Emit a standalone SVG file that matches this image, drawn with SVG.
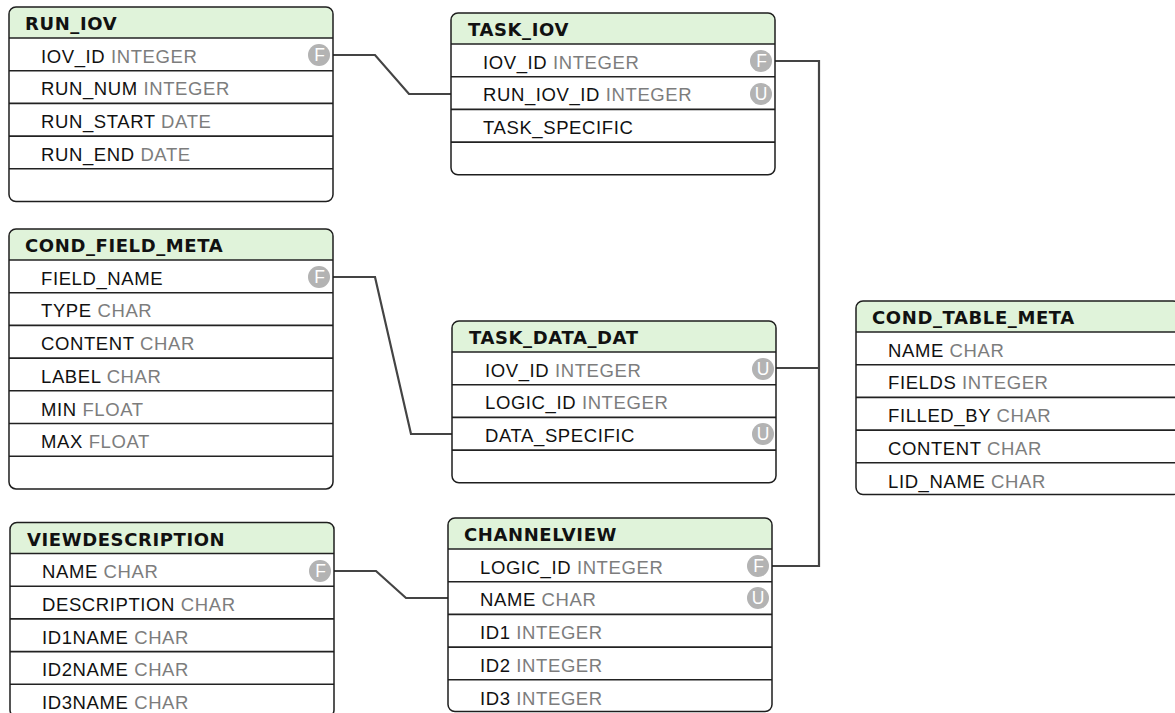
<svg xmlns="http://www.w3.org/2000/svg" width="1175" height="713" viewBox="0 0 1175 713">
  <style>
    .box { fill: #ffffff; stroke: none; }
    .frame { fill: none; stroke: #1e1e1e; stroke-width: 1.5; }
    .head { fill: #e0f3da; }
    .sep { stroke: #222222; stroke-width: 1.6; }
    .title { font-family: "DejaVu Sans", "Liberation Sans", sans-serif; font-weight: bold; font-size: 18px; fill: #111111; letter-spacing: 0.6px; }
    .row { font-family: "Liberation Sans", Arial, sans-serif; font-size: 18.5px; fill: #111111; letter-spacing: 0.6px; }
    .type { fill: #7d7d7d; }
    .key { fill: #b3b3b3; }
    .keyl { font-family: "Liberation Sans", Arial, sans-serif; font-size: 17.5px; fill: #ffffff; text-anchor: middle; }
    .link { fill: none; stroke: #444444; stroke-width: 2.2; stroke-linejoin: miter; }
  </style>

  <!-- connectors -->
  <g id="connectors">
    <path class="link" d="M333,55 H375 L409,94 H451"/>
    <path class="link" d="M333,277 H375 L411,434 H452"/>
    <path class="link" d="M334,571 H376 L406,598 H448"/>
    <path class="link" d="M775,61 H819 V566 H772"/>
    <path class="link" d="M776,368 H819"/>
  </g>

  <!-- RUN_IOV -->
  <g id="run_iov">
    <rect class="box" x="9" y="7" width="324" height="194.5" rx="7"/>
    <path class="head" d="M9,38 V14 Q9,7 16,7 H326 Q333,7 333,14 V38 Z"/>
    <line class="sep" x1="9" y1="38" x2="333" y2="38"/>
    <line class="sep" x1="9" y1="70.7" x2="333" y2="70.7"/>
    <line class="sep" x1="9" y1="103.4" x2="333" y2="103.4"/>
    <line class="sep" x1="9" y1="136.1" x2="333" y2="136.1"/>
    <line class="sep" x1="9" y1="168.8" x2="333" y2="168.8"/>
    <rect class="frame" x="9" y="7" width="324" height="194.5" rx="7"/>
    <text class="title" x="25" y="30">RUN_IOV</text>
    <text class="row" x="41" y="62.7">IOV_ID <tspan class="type">INTEGER</tspan></text>
    <text class="row" x="41" y="95.4">RUN_NUM <tspan class="type">INTEGER</tspan></text>
    <text class="row" x="41" y="128.1">RUN_START <tspan class="type">DATE</tspan></text>
    <text class="row" x="41" y="160.8">RUN_END <tspan class="type">DATE</tspan></text>
    <circle class="key" cx="319" cy="55" r="11"/>
    <text class="keyl" x="319.5" y="61.2">F</text>
  </g>

  <!-- TASK_IOV -->
  <g id="task_iov">
    <rect class="box" x="451" y="13" width="324" height="161.8" rx="7"/>
    <path class="head" d="M451,44 V20 Q451,13 458,13 H768 Q775,13 775,20 V44 Z"/>
    <line class="sep" x1="451" y1="44" x2="775" y2="44"/>
    <line class="sep" x1="451" y1="76.7" x2="775" y2="76.7"/>
    <line class="sep" x1="451" y1="109.4" x2="775" y2="109.4"/>
    <line class="sep" x1="451" y1="142.1" x2="775" y2="142.1"/>
    <rect class="frame" x="451" y="13" width="324" height="161.8" rx="7"/>
    <text class="title" x="468" y="36">TASK_IOV</text>
    <text class="row" x="483" y="68.7">IOV_ID <tspan class="type">INTEGER</tspan></text>
    <text class="row" x="483" y="101.4">RUN_IOV_ID <tspan class="type">INTEGER</tspan></text>
    <text class="row" x="483" y="134.1">TASK_SPECIFIC</text>
    <circle class="key" cx="761" cy="61" r="11"/>
    <text class="keyl" x="761.5" y="67.2">F</text>
    <circle class="key" cx="761" cy="94" r="11"/>
    <text class="keyl" x="761" y="100.2">U</text>
  </g>

  <!-- COND_FIELD_META -->
  <g id="cond_field_meta">
    <rect class="box" x="9" y="229" width="324" height="259.9" rx="7"/>
    <path class="head" d="M9,260 V236 Q9,229 16,229 H326 Q333,229 333,236 V260 Z"/>
    <line class="sep" x1="9" y1="260" x2="333" y2="260"/>
    <line class="sep" x1="9" y1="292.7" x2="333" y2="292.7"/>
    <line class="sep" x1="9" y1="325.4" x2="333" y2="325.4"/>
    <line class="sep" x1="9" y1="358.1" x2="333" y2="358.1"/>
    <line class="sep" x1="9" y1="390.8" x2="333" y2="390.8"/>
    <line class="sep" x1="9" y1="423.5" x2="333" y2="423.5"/>
    <line class="sep" x1="9" y1="456.2" x2="333" y2="456.2"/>
    <rect class="frame" x="9" y="229" width="324" height="259.9" rx="7"/>
    <text class="title" x="25" y="252">COND_FIELD_META</text>
    <text class="row" x="41" y="284.7">FIELD_NAME</text>
    <text class="row" x="41" y="317.4">TYPE <tspan class="type">CHAR</tspan></text>
    <text class="row" x="41" y="350.1">CONTENT <tspan class="type">CHAR</tspan></text>
    <text class="row" x="41" y="382.8">LABEL <tspan class="type">CHAR</tspan></text>
    <text class="row" x="41" y="415.5">MIN <tspan class="type">FLOAT</tspan></text>
    <text class="row" x="41" y="448.2">MAX <tspan class="type">FLOAT</tspan></text>
    <circle class="key" cx="319" cy="277" r="11"/>
    <text class="keyl" x="319.5" y="283.2">F</text>
  </g>

  <!-- TASK_DATA_DAT -->
  <g id="task_data_dat">
    <rect class="box" x="452" y="321" width="324" height="161.8" rx="7"/>
    <path class="head" d="M452,352 V328 Q452,321 459,321 H769 Q776,321 776,328 V352 Z"/>
    <line class="sep" x1="452" y1="352" x2="776" y2="352"/>
    <line class="sep" x1="452" y1="384.7" x2="776" y2="384.7"/>
    <line class="sep" x1="452" y1="417.4" x2="776" y2="417.4"/>
    <line class="sep" x1="452" y1="450.1" x2="776" y2="450.1"/>
    <rect class="frame" x="452" y="321" width="324" height="161.8" rx="7"/>
    <text class="title" x="469" y="344">TASK_DATA_DAT</text>
    <text class="row" x="485" y="376.7">IOV_ID <tspan class="type">INTEGER</tspan></text>
    <text class="row" x="485" y="409.4">LOGIC_ID <tspan class="type">INTEGER</tspan></text>
    <text class="row" x="485" y="442.1">DATA_SPECIFIC</text>
    <circle class="key" cx="763" cy="369" r="11"/>
    <text class="keyl" x="763" y="375.2">U</text>
    <circle class="key" cx="763" cy="434" r="11"/>
    <text class="keyl" x="763" y="440.2">U</text>
  </g>

  <!-- COND_TABLE_META -->
  <g id="cond_table_meta">
    <rect class="box" x="856" y="301" width="324" height="194.5" rx="7"/>
    <path class="head" d="M856,332 V308 Q856,301 863,301 H1173 Q1180,301 1180,308 V332 Z"/>
    <line class="sep" x1="856" y1="332" x2="1180" y2="332"/>
    <line class="sep" x1="856" y1="364.7" x2="1180" y2="364.7"/>
    <line class="sep" x1="856" y1="397.4" x2="1180" y2="397.4"/>
    <line class="sep" x1="856" y1="430.1" x2="1180" y2="430.1"/>
    <line class="sep" x1="856" y1="462.8" x2="1180" y2="462.8"/>
    <rect class="frame" x="856" y="301" width="324" height="193.5" rx="7"/>
    <text class="title" x="872" y="324">COND_TABLE_META</text>
    <text class="row" x="888" y="356.7">NAME <tspan class="type">CHAR</tspan></text>
    <text class="row" x="888" y="389.4">FIELDS <tspan class="type">INTEGER</tspan></text>
    <text class="row" x="888" y="422.1">FILLED_BY <tspan class="type">CHAR</tspan></text>
    <text class="row" x="888" y="454.8">CONTENT <tspan class="type">CHAR</tspan></text>
    <text class="row" x="888" y="487.5">LID_NAME <tspan class="type">CHAR</tspan></text>
  </g>

  <!-- VIEWDESCRIPTION -->
  <g id="viewdescription">
    <rect class="box" x="10" y="522.5" width="324" height="194.5" rx="7"/>
    <path class="head" d="M10,553.5 V529.5 Q10,522.5 17,522.5 H327 Q334,522.5 334,529.5 V553.5 Z"/>
    <line class="sep" x1="10" y1="553.5" x2="334" y2="553.5"/>
    <line class="sep" x1="10" y1="586.2" x2="334" y2="586.2"/>
    <line class="sep" x1="10" y1="618.9" x2="334" y2="618.9"/>
    <line class="sep" x1="10" y1="651.6" x2="334" y2="651.6"/>
    <line class="sep" x1="10" y1="684.3" x2="334" y2="684.3"/>
    <rect class="frame" x="10" y="522.5" width="324" height="194.5" rx="7"/>
    <text class="title" x="27" y="545.5">VIEWDESCRIPTION</text>
    <text class="row" x="42" y="578.2">NAME <tspan class="type">CHAR</tspan></text>
    <text class="row" x="42" y="610.9">DESCRIPTION <tspan class="type">CHAR</tspan></text>
    <text class="row" x="42" y="643.6">ID1NAME <tspan class="type">CHAR</tspan></text>
    <text class="row" x="42" y="676.3">ID2NAME <tspan class="type">CHAR</tspan></text>
    <text class="row" x="42" y="709">ID3NAME <tspan class="type">CHAR</tspan></text>
    <circle class="key" cx="320" cy="571" r="11"/>
    <text class="keyl" x="320.5" y="577.2">F</text>
  </g>

  <!-- CHANNELVIEW -->
  <g id="channelview">
    <rect class="box" x="448" y="518" width="324" height="193.5" rx="7"/>
    <path class="head" d="M448,549 V525 Q448,518 455,518 H765 Q772,518 772,525 V549 Z"/>
    <line class="sep" x1="448" y1="549" x2="772" y2="549"/>
    <line class="sep" x1="448" y1="581.7" x2="772" y2="581.7"/>
    <line class="sep" x1="448" y1="614.4" x2="772" y2="614.4"/>
    <line class="sep" x1="448" y1="647.1" x2="772" y2="647.1"/>
    <line class="sep" x1="448" y1="679.8" x2="772" y2="679.8"/>
    <rect class="frame" x="448" y="518" width="324" height="193.5" rx="7"/>
    <text class="title" x="464" y="541">CHANNELVIEW</text>
    <text class="row" x="480" y="573.7">LOGIC_ID <tspan class="type">INTEGER</tspan></text>
    <text class="row" x="480" y="606.4">NAME <tspan class="type">CHAR</tspan></text>
    <text class="row" x="480" y="639.1">ID1 <tspan class="type">INTEGER</tspan></text>
    <text class="row" x="480" y="671.8">ID2 <tspan class="type">INTEGER</tspan></text>
    <text class="row" x="480" y="704.5">ID3 <tspan class="type">INTEGER</tspan></text>
    <circle class="key" cx="758" cy="566" r="11"/>
    <text class="keyl" x="758.5" y="572.2">F</text>
    <circle class="key" cx="758" cy="598" r="11"/>
    <text class="keyl" x="758" y="604.2">U</text>
  </g>
</svg>
